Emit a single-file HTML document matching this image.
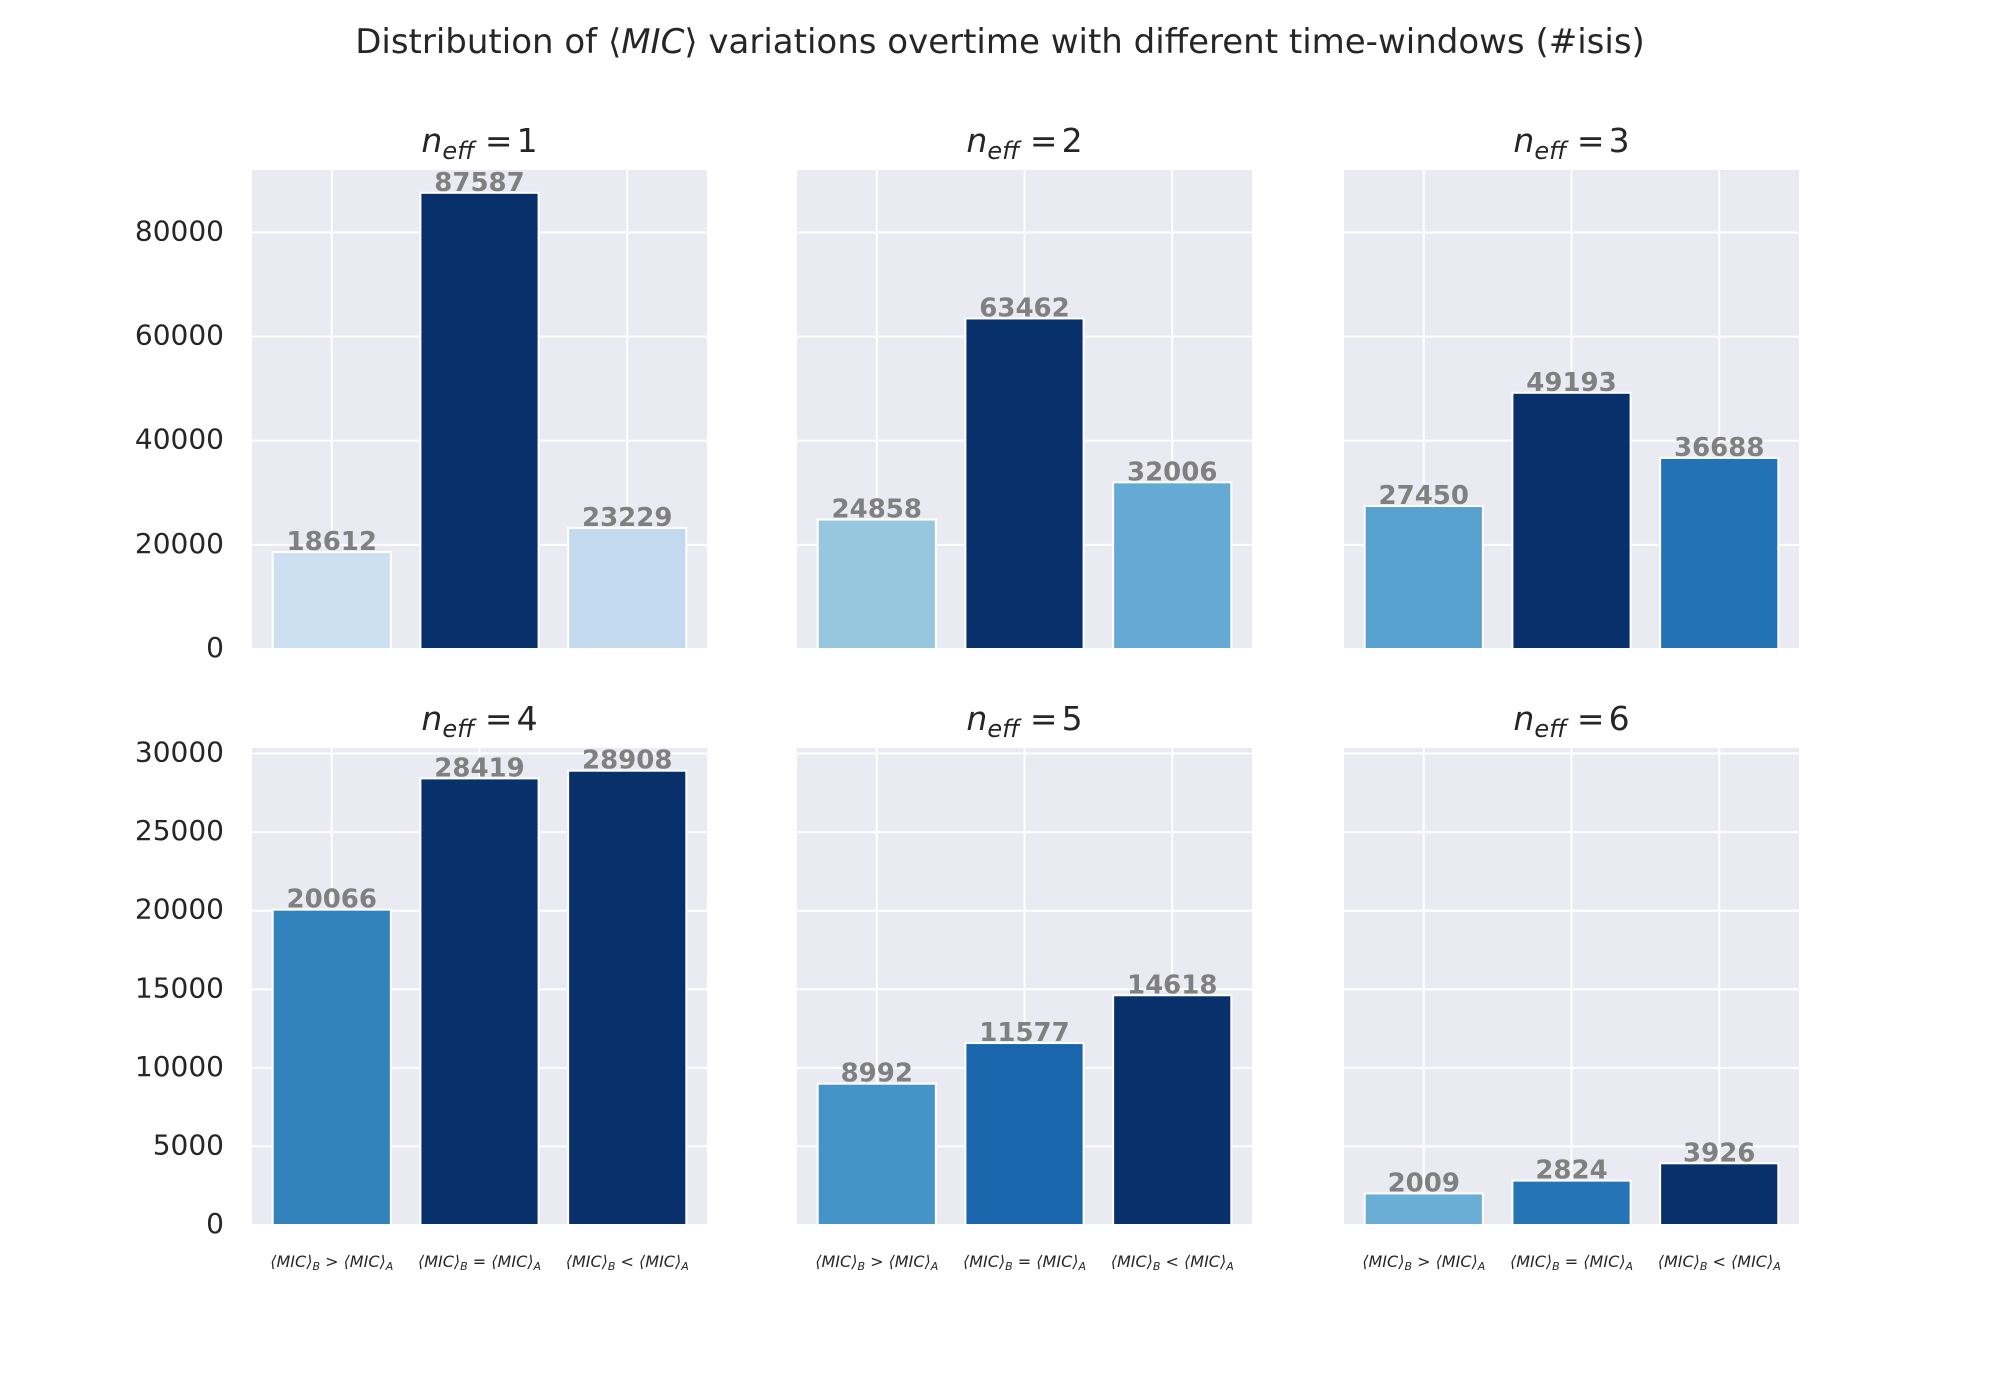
<!DOCTYPE html>
<html><head><meta charset="utf-8"><style>
html,body{margin:0;padding:0;background:#fff}
svg{display:block;font-family:"DejaVu Sans","Liberation Sans",sans-serif}
</style></head><body>
<svg id="fig" width="2000" height="1400" viewBox="0 0 2000 1400" xmlns="http://www.w3.org/2000/svg">
<text x="1000" y="53" text-anchor="middle" font-size="34" fill="#262626">Distribution of ⟨<tspan font-style="italic">MIC</tspan>⟩ variations overtime with different time-windows (#isis)</text>
</svg>
<script>
const panelNames = ['1','2','3','4','5','6'];
const categories = ['gt','eq','lt'];
const values1 = [18612, 87587, 23229];
const values2 = [24858, 63462, 32006];
const values3 = [27450, 49193, 36688];
const values4 = [20066, 28419, 28908];
const values5 = [8992, 11577, 14618];
const values6 = [2009, 2824, 3926];
const row1Ticks = [0, 20000, 40000, 60000, 80000];
const row2Ticks = [0, 5000, 10000, 15000, 20000, 25000, 30000];
const allValues = [values1, values2, values3, values4, values5, values6];
const colors = [
 ['#cde0f1','#08306b','#c3daee'],
 ['#97c6df','#08306b','#65aad4'],
 ['#58a1cf','#08306b','#2272b5'],
 ['#3282be','#08306b','#08306b'],
 ['#4594c7','#1966ad','#08306b'],
 ['#6aaed6','#2474b6','#08306b']
];
const NS='http://www.w3.org/2000/svg';
const svg=document.getElementById('fig');
function mk(tag,attrs,parent){const e=document.createElementNS(NS,tag);for(const k in attrs)e.setAttribute(k,attrs[k]);(parent||svg).appendChild(e);return e;}
const colX=[252,797,1344], axW=455;
const rowY=[[170,649],[748,1225]];
const rowMax=[Math.max(...values1,...values2,...values3)*1.05, Math.max(...values4,...values5,...values6)*1.05];
const rowTicks=[row1Ticks,row2Ticks];
for(let p=0;p<6;p++){
  const r=Math.floor(p/3), c=p%3;
  const x0=colX[c], x1=x0+axW, yT=rowY[r][0], yB=rowY[r][1];
  const xs=v=>x0+(v+0.54)/3.08*axW;
  const ys=v=>yB-v/rowMax[r]*(yB-yT);
  const g=mk('g',{});
  
  
  const bg=mk('rect',{x:x0,y:yT,width:axW,height:yB-yT,fill:'#eaeaf2'},g);
  
  
  rowTicks[r].forEach(t=>{
    const l=mk('line',{x1:x0,x2:x1,y1:ys(t),y2:ys(t),stroke:'#fff','stroke-width':2},g);
    
    
    if(c===0){
      const tx=mk('text',{x:x0-28,y:ys(t)+8,'text-anchor':'end','font-size':28,fill:'#262626'},g);
      
      
      tx.textContent=t;
    }
  });
  categories.forEach((cat,i)=>{
    const l=mk('line',{x1:xs(i),x2:xs(i),y1:yT,y2:yB,stroke:'#fff','stroke-width':2},g);
    
    
  });
  categories.forEach((cat,i)=>{
    const v=allValues[p][i];
    const b=mk('rect',{x:xs(i-0.4),y:ys(v),width:xs(i+0.4)-xs(i-0.4),height:yB-ys(v),fill:colors[p][i],stroke:'#fff','stroke-width':2},g);
    
    
    const t=mk('text',{x:xs(i),y:ys(v)-2,'text-anchor':'middle','font-size':26,'font-weight':'bold',fill:'#808080'},g);
    
    
    t.textContent=v;
    if(r===1){
      const sym=['&gt;','=','&lt;'][i];
      const xl=mk('text',{x:xs(i),y:1267,'text-anchor':'middle','font-size':16,fill:'#262626','font-style':'italic'},g);
      
      
      xl.innerHTML='⟨MIC⟩<tspan font-size="11" dy="3">B</tspan><tspan dy="-3"> '+sym+' ⟨MIC⟩</tspan><tspan font-size="11" dy="3">A</tspan>';
    }
  });
  const tt=mk('text',{x:x0+axW/2,y:yT-18,'text-anchor':'middle','font-size':33,fill:'#262626'},g);
  
  
  tt.innerHTML='<tspan font-style="italic">n</tspan><tspan font-style="italic" font-size="24" dy="7">eff</tspan><tspan dy="-7"> =</tspan><tspan dx="4">'+panelNames[p]+'</tspan>';
}
</script>
</body></html>
